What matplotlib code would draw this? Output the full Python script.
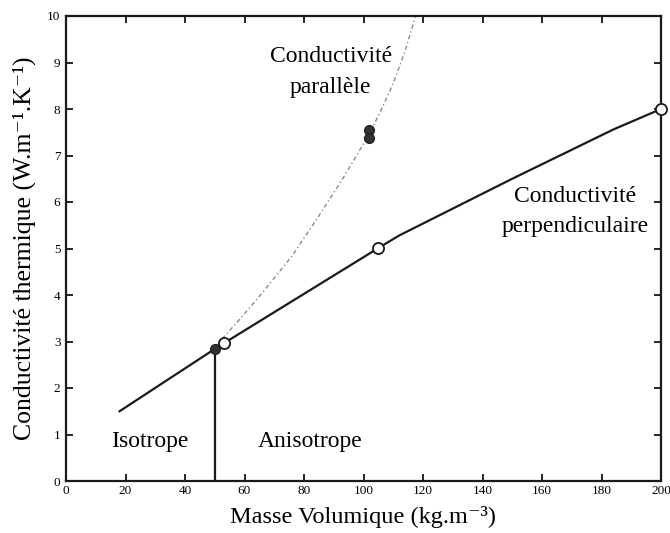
import matplotlib
matplotlib.use("Agg")
import matplotlib.pyplot as plt

plt.rcParams['font.family'] = ['Liberation Serif', 'DejaVu Serif']

# Perpendicular conductivity (solid line)
perp_x = [18, 50, 53, 105, 112, 150, 184, 200]
perp_y = [1.5, 2.84, 2.96, 5.01, 5.28, 6.5, 7.56, 8.0]

# Parallel conductivity (dotted curve)
par_x = [50, 58, 65, 76, 85, 93, 100, 105, 110, 114, 117.5]
par_y = [2.88, 3.45, 3.97, 4.84, 5.7, 6.5, 7.25, 7.85, 8.55, 9.25, 10.0]

# Measured points
open_x = [53, 105, 200]
open_y = [2.96, 5.01, 8.0]
filled_x = [50, 102, 102]
filled_y = [2.84, 7.54, 7.38]

# Isotrope / anisotrope boundary
boundary_x = 50
boundary_y = 2.84

xticks = [0, 20, 40, 60, 80, 100, 120, 140, 160, 180, 200]
yticks = [0, 1, 2, 3, 4, 5, 6, 7, 8, 9, 10]

fig = plt.figure(figsize=(6.7, 5.33), dpi=100)
ax = fig.add_axes([66/670, 52/533, 595/670, 465/533])

ax.plot(par_x, par_y, color='#8a8a8a', lw=1.0, linestyle=(0, (3, 2, 1, 2)))
ax.plot(perp_x, perp_y, color='#1a1a1a', lw=1.6)
ax.plot([boundary_x, boundary_x], [0, boundary_y], color='#1a1a1a', lw=1.6)
ax.plot(filled_x, filled_y, 'o', ms=7, color='#333333', mec='#222222', zorder=5)
ax.plot(open_x, open_y, 'o', ms=8, mfc='white', mec='#1a1a1a', mew=1.3, zorder=6, clip_on=False)

ax.set_xlim(0, 200)
ax.set_ylim(0, 10)
ax.set_xticks(xticks)
ax.set_yticks(yticks)
ax.tick_params(direction='in', length=5, width=1.2, top=True, right=True,
               labelsize=9.5, pad=3)
ax.tick_params(axis='y', pad=4)
for s in ax.spines.values():
    s.set_linewidth(1.6)
    s.set_color('#1a1a1a')

ax.set_xlabel('Masse Volumique (kg.m⁻³)', fontsize=17.5, labelpad=6)
ax.set_ylabel('Conductivité thermique (W.m⁻¹.K⁻¹)', fontsize=18.5, labelpad=8)

ax.text(89, 9.12, 'Conductivité', fontsize=17, ha='center', va='center')
ax.text(89, 8.47, 'parallèle', fontsize=17, ha='center', va='center')
ax.text(171, 6.12, 'Conductivité', fontsize=17, ha='center', va='center')
ax.text(171, 5.47, 'perpendiculaire', fontsize=17, ha='center', va='center')
ax.text(28, 0.84, 'Isotrope', fontsize=17, ha='center', va='center')
ax.text(82, 0.84, 'Anisotrope', fontsize=17, ha='center', va='center')

fig.savefig('out.png', dpi=100)
